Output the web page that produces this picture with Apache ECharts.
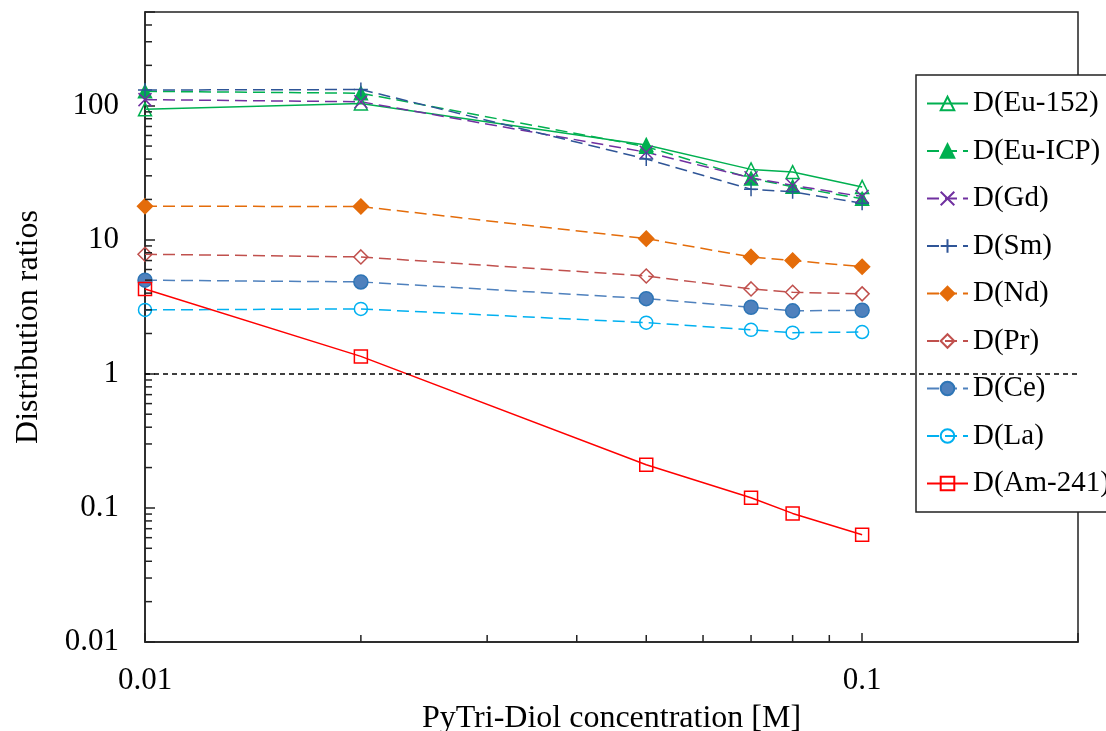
<!DOCTYPE html>
<html>
<head>
<meta charset="UTF-8">
<title>Distribution ratios</title>
<script src="https://cdn.jsdelivr.net/npm/echarts@6/dist/echarts.min.js"></script>
<style type="text/css">
body{margin:0;padding:0;background:#fff;}
#main{width:1106px;height:731px;}
</style>
</head>
<body>
<div id="main"></div>
<script type="text/javascript">
// PyTri-Diol concentration [M]
var conc = [0.01, 0.02, 0.05, 0.07, 0.08, 0.1];

// distribution ratios
var dEu152 = [94, 104, 51, 33.5, 32, 24.8];
var dEuICP = [128, 124, 49.5, 28.7, 24.9, 20.2];
var dGd    = [111, 107, 45, 29, 25.5, 21];
var dSm    = [131, 132, 40, 23.8, 22.8, 18.7];
var dNd    = [17.8, 17.7, 10.2, 7.45, 7.0, 6.3];
var dPr    = [7.8, 7.45, 5.37, 4.3, 4.06, 3.95];
var dCe    = [5.0, 4.85, 3.64, 3.14, 2.95, 2.98];
var dLa    = [3.0, 3.05, 2.41, 2.13, 2.03, 2.05];
var dAm    = [4.3, 1.35, 0.21, 0.119, 0.091, 0.063];

var xMin = 0.01, xMax = 0.2;
var yMin = 0.01, yMax = 500;
var xMinorTicks = [0.02, 0.03, 0.04, 0.05, 0.06, 0.07, 0.08, 0.09];
var yMinorTicks = [0.02, 0.03, 0.04, 0.05, 0.06, 0.07, 0.08, 0.09,
                   0.2, 0.3, 0.4, 0.5, 0.6, 0.7, 0.8, 0.9,
                   2, 3, 4, 5, 6, 7, 8, 9,
                   20, 30, 40, 50, 60, 70, 80, 90,
                   200, 300, 400];

var FONT = 'Liberation Serif';
var DASH = [12, 6];

function pairs(arr) {
    return conc.map(function (x, i) { return [x, arr[i]]; });
}
function decadeLabel(v) {
    var l = Math.log10(v);
    if (Math.abs(l - Math.round(l)) > 1e-6) return '';
    return String(+v.toPrecision(6));
}

function makeSeries(name, arr, color, dashed, symbol, size, fill, border) {
    return {
        name: name,
        type: 'line',
        data: pairs(arr),
        symbol: symbol,
        symbolSize: size,
        showAllSymbol: true,
        lineStyle: {color: color, width: 1.5, type: dashed ? DASH : 'solid'},
        itemStyle: {color: fill, borderColor: border || color, borderWidth: 1.5},
        emphasis: {disabled: true},
        z: 3
    };
}

var sX = 'path://M0,0L10,10M10,0L0,10';
var sPlus = 'path://M5,0L5,10M0,5L10,5';
var clear = 'rgba(0,0,0,0)';

var series = [
    makeSeries('D(Eu-152)', dEu152, '#00B050', false, 'triangle', 13, clear),
    makeSeries('D(Eu-ICP)', dEuICP, '#00B050', true, 'triangle', 13, '#00B050'),
    makeSeries('D(Gd)', dGd, '#7030A0', true, sX, 13, clear),
    makeSeries('D(Sm)', dSm, '#2F5597', true, sPlus, 14, clear),
    makeSeries('D(Nd)', dNd, '#E46C0A', true, 'diamond', 15, '#E46C0A'),
    makeSeries('D(Pr)', dPr, '#C0504D', true, 'diamond', 14, clear),
    makeSeries('D(Ce)', dCe, '#4F81BD', true, 'circle', 14, '#4F81BD', '#2E75B6'),
    makeSeries('D(La)', dLa, '#00B0F0', true, 'circle', 13, clear),
    makeSeries('D(Am-241)', dAm, '#FF0000', false, 'rect', 13, clear)
];
series[8].markLine = {
    silent: true,
    symbol: 'none',
    label: {show: false},
    lineStyle: {color: '#000', width: 1.5, type: [5, 4]},
    data: [{yAxis: 1}]
};

// minor ticks drawn through the axes' own scales
series.push({
    type: 'custom',
    silent: true,
    z: 4,
    clip: false,
    data: yMinorTicks.map(function (v) { return [xMin, v]; }),
    renderItem: function (params, api) {
        var p = api.coord([api.value(0), api.value(1)]);
        return {type: 'line', shape: {x1: p[0], y1: p[1], x2: p[0] + 7, y2: p[1]},
                style: {stroke: '#222', lineWidth: 1.5}};
    }
});
series.push({
    type: 'custom',
    silent: true,
    z: 4,
    clip: false,
    data: xMinorTicks.map(function (v) { return [v, yMin]; }),
    renderItem: function (params, api) {
        var p = api.coord([api.value(0), api.value(1)]);
        return {type: 'line', shape: {x1: p[0], y1: p[1], x2: p[0], y2: p[1] - 7},
                style: {stroke: '#222', lineWidth: 1.5}};
    }
});

var myChart = echarts.init(document.getElementById('main'));
myChart.setOption({
    animation: false,
    textStyle: {fontFamily: FONT},
    grid: {left: 145, right: 28, top: 12, bottom: 89, show: true,
           outerBoundsMode: 'none', containLabel: false,
           borderColor: '#222', borderWidth: 1.5, backgroundColor: 'transparent'},
    legend: {
        orient: 'vertical',
        left: 916,
        top: 75,
        padding: [13, 12, 13, 10],
        itemWidth: 41,
        itemHeight: 17,
        itemGap: 16.5,
        borderColor: '#222',
        borderWidth: 1.5,
        backgroundColor: '#fff',
        selectedMode: false,
        data: series.slice(0, 9).map(function (s) { return s.name; }),
        textStyle: {fontFamily: FONT, fontSize: 29, color: '#000', lineHeight: 31}
    },
    xAxis: {
        type: 'log',
        logBase: 10,
        min: xMin,
        max: xMax,
        name: 'PyTri-Diol concentration [M]',
        nameLocation: 'middle',
        nameGap: 61,
        nameTextStyle: {fontFamily: FONT, fontSize: 32, color: '#000'},
        axisLine: {lineStyle: {color: '#222', width: 1.5}},
        axisTick: {inside: true, length: 9, lineStyle: {color: '#222', width: 1.5}},
        axisLabel: {fontFamily: FONT, fontSize: 31, color: '#000', margin: 23,
                    formatter: decadeLabel},
        splitLine: {show: false}
    },
    yAxis: {
        type: 'log',
        logBase: 10,
        min: yMin,
        max: yMax,
        name: 'Distribution ratios',
        nameLocation: 'middle',
        nameGap: 100,
        nameTextStyle: {fontFamily: FONT, fontSize: 32, color: '#000'},
        axisLine: {lineStyle: {color: '#222', width: 1.5}},
        axisTick: {inside: true, length: 10, lineStyle: {color: '#222', width: 1.5}},
        axisLabel: {fontFamily: FONT, fontSize: 31, color: '#000', margin: 26,
                    formatter: decadeLabel},
        splitLine: {show: false}
    },
    series: series
});
</script>
</body>
</html>
